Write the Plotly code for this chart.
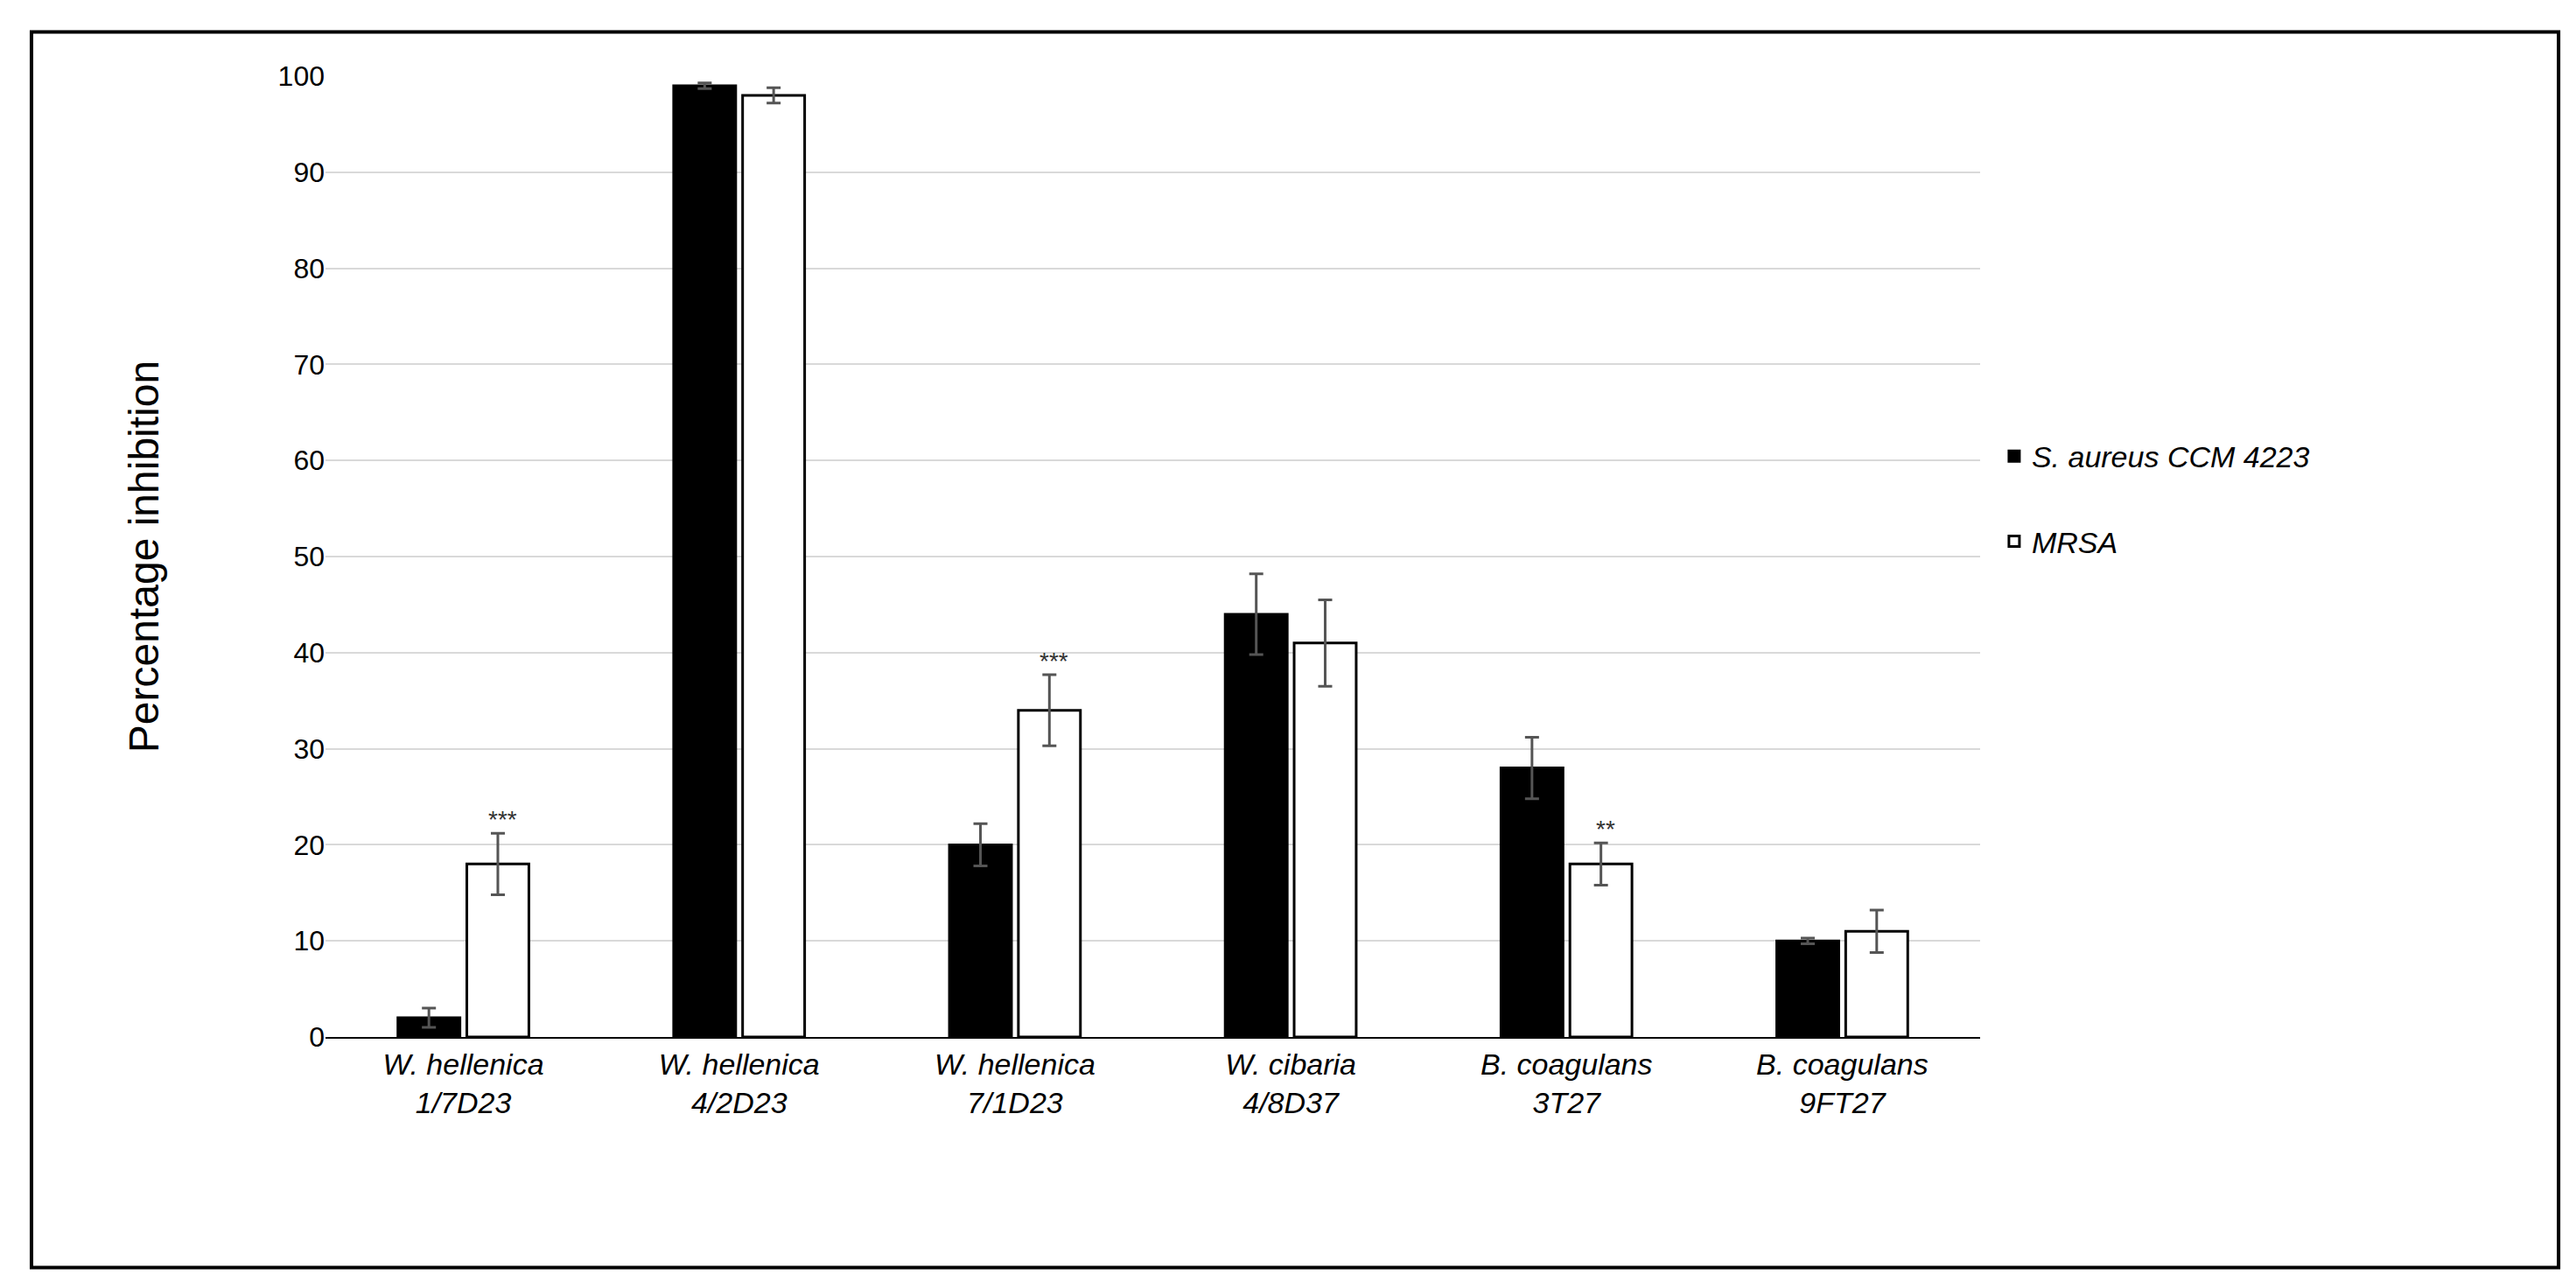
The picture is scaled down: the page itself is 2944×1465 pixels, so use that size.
import plotly.graph_objects as go

categories = ["<i>W. hellenica</i><br><i>1/7D23</i>", "<i>W. hellenica</i><br><i>4/2D23</i>",
              "<i>W. hellenica</i><br><i>7/1D23</i>", "<i>W. cibaria</i><br><i>4/8D37</i>",
              "<i>B. coagulans</i><br><i>3T27</i>", "<i>B. coagulans</i><br><i>9FT27</i>"]
saureus = [2, 99, 20, 44, 28, 10]
saureus_err = [1.0, 0.3, 2.2, 4.2, 3.2, 0.3]
mrsa = [18, 98, 34, 41, 18, 11]
mrsa_err = [3.2, 0.8, 3.7, 4.5, 2.2, 2.2]
signif = ["***", "", "***", "", "**", ""]

font = "Liberation Sans"
fig = go.Figure()
fig.add_bar(x=categories, y=saureus, name="<i>S. aureus CCM 4223</i>", legendgroup="a",
            marker=dict(color="black", line=dict(color="black", width=3)),
            error_y=dict(type="data", array=saureus_err, color="#555", thickness=3, width=8))
fig.add_bar(x=categories, y=mrsa, name="<i>MRSA</i>", legendgroup="b",
            marker=dict(color="white", line=dict(color="black", width=3)),
            error_y=dict(type="data", array=mrsa_err, color="#555", thickness=3, width=8))

for c, v, e, s in zip(categories, mrsa, mrsa_err, signif):
    if s:
        fig.add_annotation(x=c, y=v + e, text=s, showarrow=False, xshift=45, yshift=16,
                           font=dict(family=font, size=28, color="#333"))

fig.update_layout(
    width=2944, height=1465, barmode="group", bargap=0.5, bargroupgap=0.1,
    plot_bgcolor="white", paper_bgcolor="white",
    margin=dict(l=364, r=689, t=79, b=288),
    font=dict(family=font, size=32, color="black"),
    legend=dict(x=1.01, y=0.56, yanchor="middle", font=dict(size=34), tracegroupgap=50,
                itemwidth=30),
    xaxis=dict(showline=True, linecolor="black", linewidth=2, tickfont=dict(size=34)),
    yaxis=dict(range=[0, 100], dtick=10, showgrid=True, gridcolor="#d9d9d9", gridwidth=2,
               zeroline=False, ticks="", tickfont=dict(size=32),
               title=dict(text="Percentage inhibition", font=dict(size=48), standoff=120)),
    shapes=[dict(type="rect", xref="paper", yref="paper", x0=-0.1777, x1=1.3496, y0=-0.240, y1=1.046,
                 line=dict(color="black", width=4))],
)
fig.write_html("out.html")
